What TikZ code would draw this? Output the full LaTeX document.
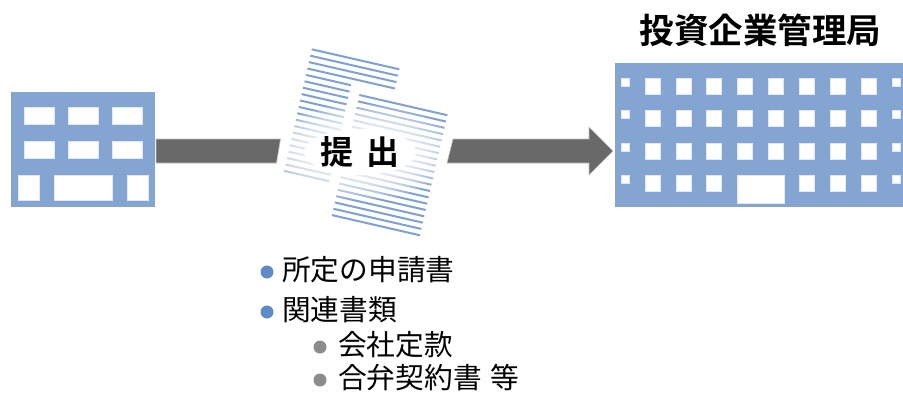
\documentclass[tikz,border=0pt]{standalone}
\usepackage{fontspec}
\setmainfont{Noto Sans CJK JP}[BoldFont={Noto Sans CJK JP Bold}]
\definecolor{buildblue}{RGB}{132,164,209}
\definecolor{stripeblue}{RGB}{126,161,212}
\definecolor{arrowgray}{RGB}{105,105,105}
\definecolor{dotblue}{RGB}{95,138,198}
\definecolor{dotgray}{RGB}{140,140,140}
\tikzset{
  building/.style={fill=buildblue},
  pane/.style={fill=white,draw=buildblue!25,line width=0.6pt},
  shaft/.style={fill=arrowgray,draw=arrowgray!40,line width=0.6pt},
  stripe/.style={stripeblue,line width=2pt},
  bullet/.style={circle,inner sep=0pt,minimum size=13pt},
  itemtext/.style={anchor=base west,inner sep=0pt,font=\fontsize{28.7}{30}\selectfont},
}
\begin{document}
\begin{tikzpicture}[x=1pt,y=-1pt]
    \useasboundingbox (0,0) rectangle (903,392);
    % small building
    \fill[building] (11,92) rectangle (155,207);
    \foreach \row in {107,141}
      \foreach \col in {24,68,112}
        \draw[pane] (\col,\row) rectangle ++(30,17);
    \draw[pane] (18,175) rectangle (39,200);
    \draw[pane] (54,175) rectangle (112,200);
    \draw[pane] (127,175) rectangle (148,200);
    % large building
    \fill[building] (615,63) rectangle (903,207);
    \foreach \row in {78,110,143,175}{
      \draw[pane] (621,\row) rectangle ++(8,8);
      \draw[pane] (892,\row) rectangle ++(8,8);
      \foreach \col in {645,676,706,768,799,830,861}
        \draw[pane] (\col,\row) rectangle ++(15.5,16.5);
    }
    \foreach \row in {78,110,143}
      \draw[pane] (737,\row) rectangle ++(15.5,16.5);
    \draw[pane] (737,175) rectangle (784,203);
    \node[anchor=base,inner sep=0pt,font=\fontsize{34.5}{36}\selectfont\bfseries] (title) at (760.5,43) {投資企業管理局};
    % documents
    \foreach \i in {0,...,19}{
      \coordinate (backstart) at ({311.7-1.44*\i},{49.3+6.4*\i});
      \ifnum\i<4
        \draw[stripe] (backstart) -- ++(87.6,20);
      \else
        \draw[stripe] (backstart) -- ++(45,10.3);
      \fi
      \coordinate (frontstart) at ({359.3-1.44*\i},{95+6.32*\i});
      \draw[stripe] (frontstart) -- ++(88,20.2);
    }
    % white glow behind the label
    \foreach \k in {0,...,15}
      \fill[white,fill opacity=0.1] (360,152) ellipse ({98-\k*2.8} and {48-\k*1.6});
    \fill[white] (360,152) ellipse (56 and 23);
    \node[inner sep=0pt,font=\fontsize{33}{35}\selectfont\bfseries] (submit) at (360,152) {提 \kern5pt出};
    % arrow
    \draw[shaft] (156,139) -- (280.5,139) -- (276.5,163) -- (156,163) -- cycle;
    \draw[shaft] (453,139) -- (589,139) -- (589,127) -- (613,151) -- (589,175) -- (589,163) -- (447,163) -- cycle;
    % list
    \node[bullet,fill=dotblue] (dota) at (267,272) {};
    \node[bullet,fill=dotblue] (dotb) at (267,312) {};
    \node[bullet,fill=dotgray] (dotc) at (320,347) {};
    \node[bullet,fill=dotgray] (dotd) at (320,380) {};
    \node[itemtext] (itema) at (282,280) {所定の申請書};
    \node[itemtext] (itemb) at (282,320) {関連書類};
    \node[itemtext] (itemc) at (338,355) {会社定款};
    \node[itemtext] (itemd) at (338,388) {合弁契約書 \kern2pt等};
\end{tikzpicture}
\end{document}
